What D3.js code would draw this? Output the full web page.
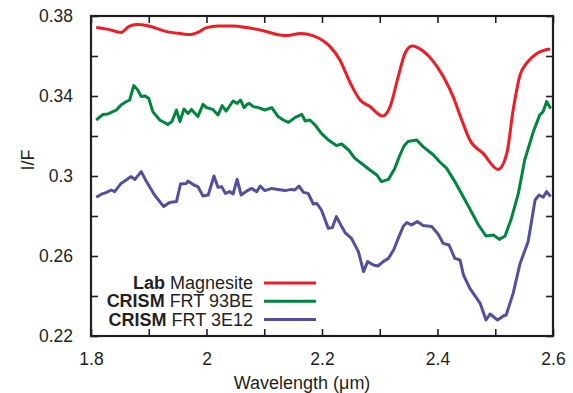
<!DOCTYPE html>
<html>
<head>
<meta charset="utf-8">
<script src="https://cdn.jsdelivr.net/npm/d3@7"></script>
<style>
  body { margin: 0; background: #fff; }
  svg text { font-family: "Liberation Sans", Arial, sans-serif; fill: #231f20; }
</style>
</head>
<body>
<div id="chart"></div>
<script>
const width = 573, height = 393;
const margin = {top: 16, right: 20, bottom: 57, left: 91};

// series names for the legend
const seriesBold = ["Lab", "CRISM", "CRISM"];
const seriesName = ["Magnesite", "FRT 93BE", "FRT 3E12"];
const seriesColor = ["#ee1d25", "#00853f", "#524fa1"];

// Lab Magnesite
const labX = [1.809,1.830,1.852,1.866,1.879,1.900,1.931,1.955,1.971,1.985,2.000,2.020,2.046,2.070,2.100,2.127,2.140,2.162,2.184,2.200,2.214,2.231,2.249,2.266,2.283,2.305,2.318,2.332,2.344,2.356,2.375,2.393,2.410,2.427,2.442,2.456,2.479,2.505,2.520,2.531,2.543,2.554,2.572,2.595];
const labY = [0.3742,0.3733,0.3718,0.3748,0.3757,0.3750,0.3722,0.3712,0.3707,0.3718,0.3742,0.3750,0.3750,0.3742,0.3725,0.3705,0.3702,0.3713,0.3702,0.3680,0.3647,0.3580,0.3465,0.3380,0.3347,0.3300,0.3347,0.3497,0.3615,0.3650,0.3625,0.3572,0.3497,0.3397,0.3280,0.3180,0.3113,0.3033,0.3113,0.3330,0.3505,0.3563,0.3613,0.3635];

// CRISM FRT 93BE
const frt93X = [1.809,1.821,1.829,1.835,1.844,1.852,1.861,1.867,1.874,1.881,1.887,1.894,1.900,1.907,1.919,1.933,1.940,1.948,1.954,1.961,1.968,1.974,1.985,1.994,2.000,2.011,2.020,2.027,2.034,2.046,2.053,2.059,2.065,2.071,2.074,2.081,2.090,2.101,2.113,2.124,2.133,2.142,2.153,2.165,2.171,2.179,2.188,2.199,2.211,2.225,2.234,2.246,2.257,2.272,2.283,2.295,2.303,2.315,2.326,2.335,2.342,2.349,2.364,2.375,2.393,2.404,2.416,2.430,2.451,2.471,2.484,2.497,2.507,2.517,2.528,2.540,2.551,2.566,2.577,2.583,2.589,2.596];
const frt93Y = [0.3280,0.3308,0.3310,0.3318,0.3330,0.3355,0.3372,0.3380,0.3452,0.3430,0.3397,0.3400,0.3388,0.3322,0.3280,0.3258,0.3272,0.3330,0.3272,0.3335,0.3313,0.3333,0.3297,0.3358,0.3342,0.3333,0.3305,0.3352,0.3325,0.3375,0.3363,0.3380,0.3342,0.3360,0.3363,0.3347,0.3342,0.3330,0.3342,0.3297,0.3280,0.3268,0.3292,0.3308,0.3275,0.3280,0.3255,0.3213,0.3180,0.3152,0.3160,0.3130,0.3088,0.3055,0.3030,0.3005,0.2972,0.2983,0.3038,0.3105,0.3150,0.3172,0.3180,0.3147,0.3105,0.3070,0.3038,0.2972,0.2863,0.2755,0.2700,0.2705,0.2683,0.2700,0.2788,0.2913,0.3080,0.3222,0.3305,0.3322,0.3372,0.3338];

// CRISM FRT 3E12
const frt3eX = [1.809,1.818,1.826,1.835,1.841,1.852,1.861,1.869,1.876,1.887,1.896,1.910,1.926,1.936,1.948,1.955,1.965,1.968,1.978,1.985,1.994,2.003,2.013,2.020,2.026,2.033,2.040,2.046,2.053,2.060,2.071,2.078,2.087,2.093,2.101,2.113,2.124,2.136,2.147,2.153,2.160,2.168,2.176,2.185,2.191,2.199,2.211,2.218,2.225,2.234,2.240,2.251,2.263,2.272,2.279,2.289,2.297,2.306,2.315,2.324,2.332,2.341,2.347,2.355,2.365,2.375,2.390,2.401,2.410,2.420,2.430,2.439,2.445,2.456,2.474,2.484,2.491,2.504,2.514,2.519,2.531,2.543,2.557,2.569,2.576,2.583,2.589,2.596];
const frt3eY = [0.2894,0.2909,0.2917,0.2930,0.2922,0.2963,0.2980,0.2997,0.2983,0.3022,0.2972,0.2905,0.2847,0.2867,0.2872,0.2960,0.2963,0.2975,0.2955,0.2947,0.2900,0.2905,0.3000,0.2943,0.2947,0.2913,0.2922,0.2910,0.2983,0.2905,0.2927,0.2938,0.2922,0.2950,0.2927,0.2938,0.2933,0.2927,0.2933,0.2930,0.2950,0.2918,0.2913,0.2860,0.2863,0.2830,0.2738,0.2742,0.2797,0.2747,0.2717,0.2688,0.2622,0.2522,0.2572,0.2555,0.2550,0.2572,0.2588,0.2630,0.2688,0.2750,0.2767,0.2755,0.2772,0.2752,0.2747,0.2710,0.2663,0.2655,0.2588,0.2580,0.2505,0.2438,0.2363,0.2280,0.2310,0.2280,0.2300,0.2305,0.2413,0.2563,0.2672,0.2880,0.2905,0.2894,0.2922,0.2897];

const xTicks = [1.8,1.9,2.0,2.1,2.2,2.3,2.4,2.5,2.6];
const xLabels = ["1.8","2","2.2","2.4","2.6"];
const yTicks = [0.22,0.24,0.26,0.28,0.30,0.32,0.34,0.36,0.38];
const yLabels = ["0.22","0.26","0.3","0.34","0.38"];

const svg = d3.select("#chart").append("svg")
    .attr("width", width)
    .attr("height", height);

const x = d3.scaleLinear().domain([1.8, 2.6]).range([margin.left, width - margin.right]);
const y = d3.scaleLinear().domain([0.22, 0.38]).range([height - margin.bottom, margin.top]);

const fmtX = d => { const s = d3.format("~g")(+d.toFixed(1)); return xLabels.includes(s) ? s : ""; };
const fmtY = d => { const s = d3.format("~g")(+d.toFixed(2)); return yLabels.includes(s) ? s : ""; };

// axes, ticks pointing inward
const axisStyle = g => {
  g.select(".domain").remove();
  g.selectAll(".tick line").attr("stroke", "#231f20").attr("stroke-width", 1.6);
  g.selectAll(".tick text").attr("font-size", 17.5);
};
svg.append("g").attr("transform", `translate(0,${y(0.22)})`)
    .call(d3.axisBottom(x).tickValues(xTicks).tickSize(-7).tickPadding(17).tickFormat(fmtX))
    .call(axisStyle);
svg.append("g").attr("transform", `translate(0,${y(0.38)})`)
    .call(d3.axisTop(x).tickValues(xTicks).tickSize(-7).tickFormat(""))
    .call(axisStyle);
svg.append("g").attr("transform", `translate(${x(1.8)},0)`)
    .call(d3.axisLeft(y).tickValues(yTicks).tickSize(-7).tickPadding(18).tickFormat(fmtY))
    .call(axisStyle);
svg.append("g").attr("transform", `translate(${x(2.6)},0)`)
    .call(d3.axisRight(y).tickValues(yTicks).tickSize(-7).tickFormat(""))
    .call(axisStyle);

// frame
svg.append("rect")
    .attr("x", x(1.8)).attr("y", y(0.38))
    .attr("width", x(2.6) - x(1.8)).attr("height", y(0.22) - y(0.38))
    .attr("fill", "none").attr("stroke", "#231f20").attr("stroke-width", 2.2);

// series
const series = [
  {xs: labX, ys: labY, curve: d3.curveMonotoneX},
  {xs: frt93X, ys: frt93Y, curve: d3.curveLinear},
  {xs: frt3eX, ys: frt3eY, curve: d3.curveLinear}
];
series.forEach((s, i) => {
  const line = d3.line()
      .x(d => x(d[0]))
      .y(d => y(d[1]))
      .curve(s.curve);
  svg.append("path")
      .datum(d3.zip(s.xs, s.ys))
      .attr("fill", "none")
      .attr("stroke", seriesColor[i])
      .attr("stroke-width", 3)
      .attr("stroke-linejoin", "round")
      .attr("d", line);
});

// legend
const legend = svg.append("g");
seriesName.forEach((name, i) => {
  const ly = 283 + i * 18.3;
  const t = legend.append("text")
      .attr("x", 253).attr("y", ly + 6)
      .attr("text-anchor", "end")
      .attr("font-size", 18);
  t.append("tspan").attr("font-weight", "bold").text(seriesBold[i]);
  t.append("tspan").text(" " + name);
  legend.append("line")
      .attr("x1", 264).attr("x2", 316)
      .attr("y1", ly).attr("y2", ly)
      .attr("stroke", seriesColor[i]).attr("stroke-width", 3);
});

// axis titles
svg.append("text")
    .attr("x", 302).attr("y", 389)
    .attr("text-anchor", "middle")
    .attr("font-size", 18)
    .text("Wavelength (\u03bcm)");
svg.append("text")
    .attr("transform", `translate(34,160) rotate(-90)`)
    .attr("text-anchor", "middle")
    .attr("font-size", 18)
    .text("I/F");
</script>
</body>
</html>
